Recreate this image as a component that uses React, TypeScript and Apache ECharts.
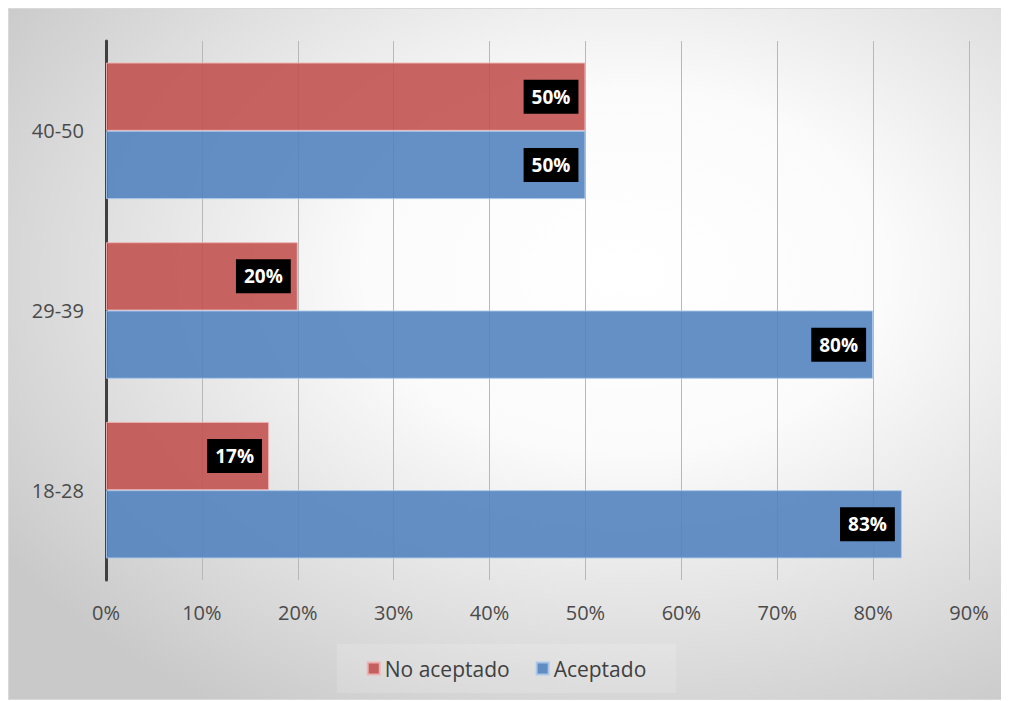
import React, { useEffect, useRef } from "react";
import * as echarts from "echarts";

const categories = ["18-28", "29-39", "40-50"];
const noAceptado = [17, 20, 50];
const aceptado = [83, 80, 50];
const xTicks = { min: 0, max: 90, interval: 10 };

export default function App() {
  const ref = useRef<HTMLDivElement>(null);
  useEffect(() => {
    if (!ref.current) return;
    const chart = echarts.init(ref.current, undefined, { renderer: "svg" });
    const font = "'Open Sans', 'Noto Sans', sans-serif";
    const label = {
      show: true,
      position: "insideRight",
      distance: 7,
      formatter: "{c}%",
      color: "#ffffff",
      fontWeight: "bold",
      fontSize: 19,
      fontFamily: font,
      backgroundColor: "#000000",
      padding: [8, 8, 7, 8],
    };
    chart.setOption({
      animation: false,
      backgroundColor: new echarts.graphic.RadialGradient(0.62, 0.38, 0.75, [
        { offset: 0, color: "#ffffff" },
        { offset: 0.35, color: "#fbfbfb" },
        { offset: 1, color: "#c9c9c9" },
      ]),
      textStyle: { fontFamily: font },
      grid: { left: 97, right: 35, top: 32, bottom: 119, containLabel: false },
      legend: {
        bottom: 6,
        left: "center",
        icon: "rect",
        itemWidth: 12,
        itemHeight: 12,
        itemGap: 26,
        padding: [14, 30, 14, 30],
        backgroundColor: "rgba(255,255,255,0.15)",
        textStyle: { fontSize: 21, color: "#404040", fontFamily: font },
        data: ["No aceptado", "Aceptado"],
      },
      xAxis: {
        type: "value",
        min: xTicks.min,
        max: xTicks.max,
        interval: xTicks.interval,
        axisLine: { show: false },
        axisTick: { show: false },
        axisLabel: {
          formatter: "{value}%",
          fontSize: 20,
          color: "#4a4a4a",
          margin: 22,
          fontFamily: font,
        },
        splitLine: { show: true, lineStyle: { color: "#b8b8b8", width: 1 } },
      },
      yAxis: {
        type: "category",
        data: categories,
        axisLine: { show: true, lineStyle: { color: "#404040", width: 3 } },
        axisTick: { show: false },
        axisLabel: { fontSize: 20, color: "#4a4a4a", margin: 22, fontFamily: font },
      },
      series: [
        {
          name: "No aceptado",
          type: "bar",
          data: noAceptado,
          barGap: "0%",
          barCategoryGap: "24%",
          itemStyle: {
            color: "rgba(192,80,77,0.88)",
            borderColor: "rgba(240,180,178,0.9)",
            borderWidth: 1,
          },
          label,
        },
        {
          name: "Aceptado",
          type: "bar",
          data: aceptado,
          barGap: "0%",
          barCategoryGap: "24%",
          itemStyle: {
            color: "rgba(79,129,189,0.88)",
            borderColor: "rgba(170,200,235,0.9)",
            borderWidth: 1,
          },
          label,
        },
      ],
    });
    return () => chart.dispose();
  }, []);
  return (
    <div
      ref={ref}
      style={{ width: 997, height: 692, border: "1px solid #d9d9d9", boxSizing: "border-box" }}
    />
  );
}
